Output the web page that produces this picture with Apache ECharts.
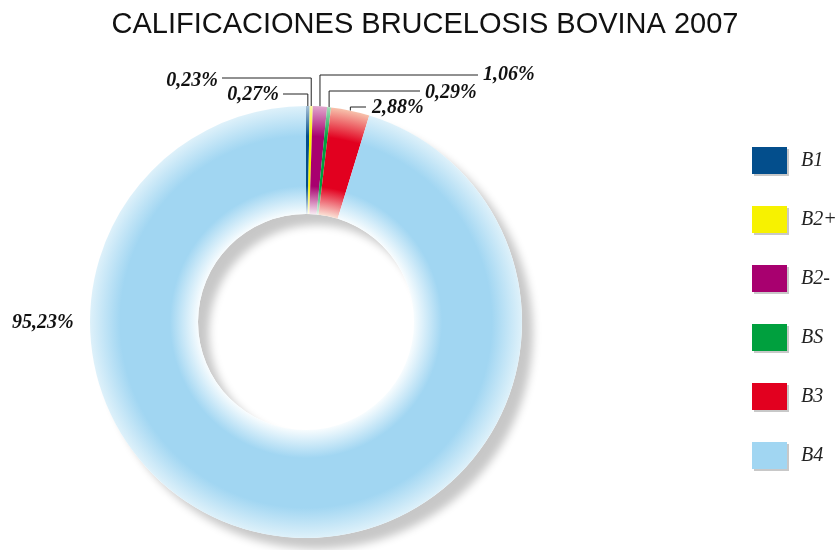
<!DOCTYPE html>
<html><head><meta charset="utf-8">
<script src="https://cdn.jsdelivr.net/npm/echarts@6/dist/echarts.min.js"></script>
<style>html,body{margin:0;padding:0;background:#fff}#c{width:835px;height:550px}</style>
</head><body><div id="c"></div>
<script>
const titleText = 'CALIFICACIONES BRUCELOSIS BOVINA 2007';
const categories = ['B1', 'B2+', 'B2-', 'BS', 'B3', 'B4'];
const values = [0.27, 0.23, 1.06, 0.29, 2.88, 95.23];
const colors = ['#034e8c', '#f7f200', '#a8006f', '#00a03e', '#e2001f', '#a1d6f2'];
// pale tint used at the ring edges (style only)
const edgeTints = [null, null, null, null, '#f29a74', null];

// label placement (layout only)
const labelPos = [
  {x: 279, y: 95, align: 'right', lineY: 94, endX: 283},
  {x: 218, y: 81, align: 'right', lineY: 78, endX: 222},
  {x: 483, y: 75, align: 'left', lineY: 75, endX: 478},
  {x: 425, y: 93, align: 'left', lineY: 91, endX: 420},
  {x: 372, y: 108, align: 'left', lineY: 107, endX: 366},
  {x: 12, y: 323, align: 'left', lineY: null}
];
const CX = 306, CY = 322, R0 = 108, R = 216;

function mix(hex, t) {
  const n = parseInt(hex.slice(1), 16);
  const r = n >> 16 & 255, g = n >> 8 & 255, b = n & 255;
  const f = c => Math.round(255 + (c - 255) * t);
  return 'rgb(' + f(r) + ',' + f(g) + ',' + f(b) + ')';
}
function grad(c, tint) {
  const e = tint || c;
  return {type: 'radial', x: CX, y: CY, r: R, global: true, colorStops: [
    {offset: 0, color: '#ffffff'},
    {offset: R0 / R, color: mix(e, tint ? 0.3 : 0.08)},
    {offset: 0.63, color: c},
    {offset: 0.86, color: c},
    {offset: 1, color: mix(e, tint ? 0.6 : 0.35)}
  ]};
}
const total = values.reduce((a, b) => a + b, 0);
function anchor(i) {
  let cum = 0;
  for (let k = 0; k < i; k++) cum += values[k];
  const a = (cum + values[i] / 2) / total * Math.PI * 2;
  return [CX + R * Math.sin(a), CY - R * Math.cos(a)];
}

const chart = echarts.init(document.getElementById('c'), null, {renderer: 'canvas'});
chart.setOption({
  animation: false,
  backgroundColor: '#fff',
  title: {
    text: titleText, left: 425, top: 10, textAlign: 'center', padding: 0,
    textStyle: {fontFamily: 'Liberation Sans', fontWeight: 'normal', fontSize: 29, color: '#111'}
  },
  legend: {
    orient: 'vertical', left: 752, top: 147, padding: 0, itemWidth: 35, itemHeight: 27, itemGap: 32,
    icon: 'rect', selectedMode: false,
    data: categories.map((n, i) => ({name: n, itemStyle: {color: colors[i]}})),
    itemStyle: {shadowColor: '#c8c8c8', shadowOffsetX: 2, shadowOffsetY: 2, shadowBlur: 0},
    textStyle: {fontFamily: 'Liberation Serif', fontStyle: 'italic', fontSize: 20, color: '#222', padding: [3, 0, 0, 9]}
  },
  series: [
    {
      type: 'pie', z: 1, silent: true, radius: [R0, R], center: [CX, CY],
      data: [{value: 1, name: '__ring'}],
      label: {show: false}, labelLine: {show: false}, emphasis: {disabled: true},
      itemStyle: {color: '#ffffff', shadowBlur: 8, shadowOffsetX: 11, shadowOffsetY: 11, shadowColor: 'rgba(0,0,0,0.22)'}
    },
    {
      type: 'pie', z: 2, radius: [R0, R], center: [CX, CY], avoidLabelOverlap: false,
      emphasis: {disabled: true},
      data: categories.map((n, i) => {
        const d = {name: n, value: values[i], itemStyle: {color: grad(colors[i], edgeTints[i])}};
        if (labelPos[i].lineY == null) d.labelLine = {show: false};
        return d;
      }),
      label: {
        show: true, position: 'outside',
        formatter: p => p.value.toFixed(2).replace('.', ',') + '%',
        fontFamily: 'Liberation Serif', fontStyle: 'italic', fontWeight: 'bold', fontSize: 20, color: '#111'
      },
      labelLine: {show: true, length: 10, length2: 10, smooth: false, lineStyle: {color: '#222', width: 1}},
      labelLayout: function (p) {
        const L = labelPos[p.dataIndex];
        const out = {x: L.x, y: L.y, align: L.align, verticalAlign: 'middle'};
        if (L.lineY != null) {
          const s = (p.labelLinePoints && p.labelLinePoints[0]) || anchor(p.dataIndex);
          out.labelLinePoints = [[s[0], s[1]], [s[0], L.lineY], [L.endX, L.lineY]];
        }
        return out;
      }
    }
  ]
});
</script>
</body></html>
